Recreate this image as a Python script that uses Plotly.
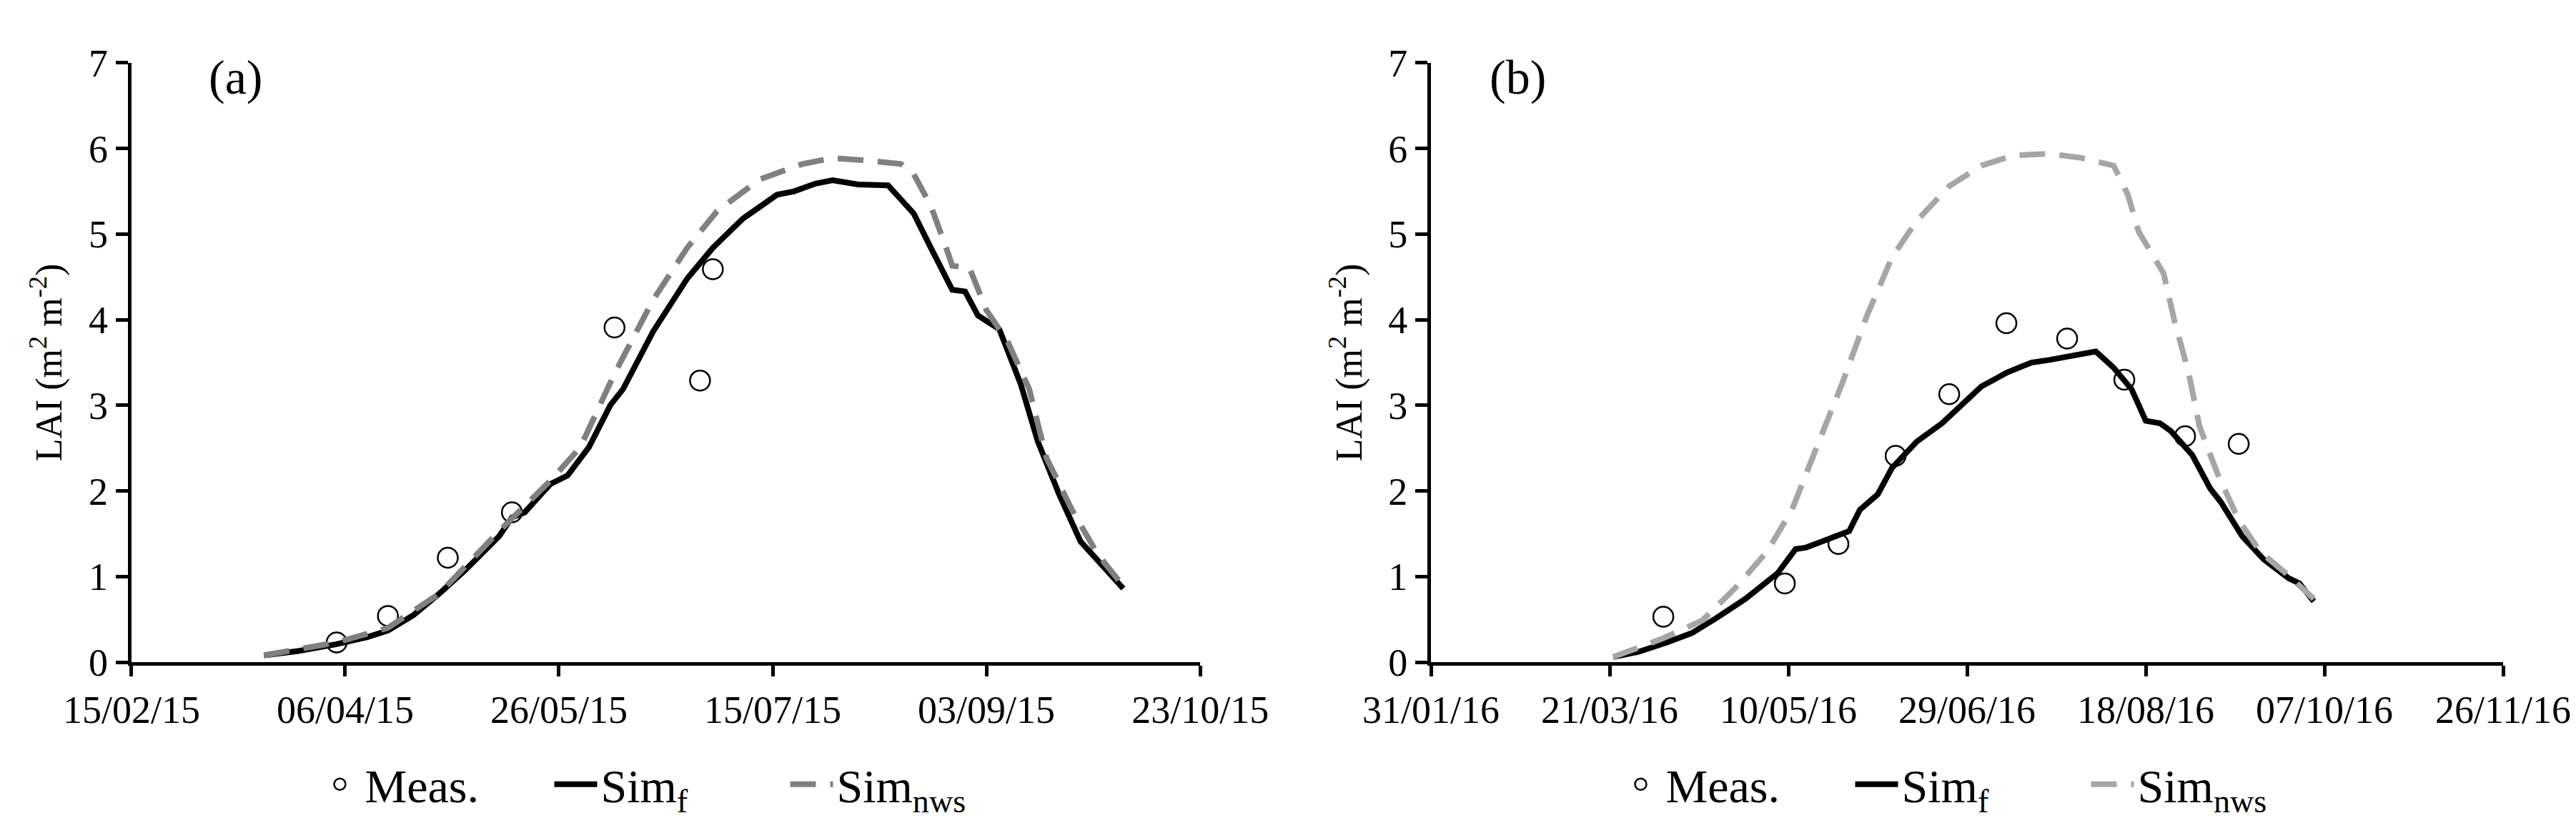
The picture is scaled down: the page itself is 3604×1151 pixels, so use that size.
import plotly.graph_objects as go

# ---- panel (a): 2015 ----
meas_a_dates = ['2015-04-04', '2015-04-16', '2015-04-30', '2015-05-15',
                '2015-06-08', '2015-06-28', '2015-07-01']
meas_a_lai = [0.23, 0.54, 1.22, 1.75, 3.91, 3.29, 4.59]

simf_a_dates = ['2015-03-18', '2015-03-26', '2015-04-04', '2015-04-11', '2015-04-16',
                '2015-04-22', '2015-04-28', '2015-05-04', '2015-05-12', '2015-05-15',
                '2015-05-18', '2015-05-24', '2015-05-28', '2015-06-02', '2015-06-07',
                '2015-06-10', '2015-06-17', '2015-06-25', '2015-07-01', '2015-07-08',
                '2015-07-16', '2015-07-20', '2015-07-25', '2015-07-29', '2015-08-04',
                '2015-08-11', '2015-08-13', '2015-08-17', '2015-08-21', '2015-08-26',
                '2015-08-29', '2015-09-01', '2015-09-06', '2015-09-11', '2015-09-15',
                '2015-09-20', '2015-09-25', '2015-10-01', '2015-10-05']
simf_a_lai = [0.08, 0.13, 0.21, 0.29, 0.37, 0.55, 0.80, 1.07, 1.47, 1.69,
              1.75, 2.08, 2.18, 2.51, 3.00, 3.19, 3.86, 4.48, 4.84, 5.18,
              5.46, 5.50, 5.59, 5.63, 5.58, 5.57, 5.46, 5.24, 4.84, 4.35,
              4.33, 4.05, 3.89, 3.25, 2.58, 1.96, 1.41, 1.07, 0.86]

simnws_a_dates = ['2015-03-18', '2015-04-04', '2015-04-16', '2015-04-28', '2015-05-12',
                  '2015-05-24', '2015-05-31', '2015-06-08', '2015-06-17', '2015-06-25',
                  '2015-07-02', '2015-07-12', '2015-07-22', '2015-07-29', '2015-08-06',
                  '2015-08-14', '2015-08-17', '2015-08-21', '2015-08-25', '2015-08-26',
                  '2015-08-30', '2015-09-03', '2015-09-08', '2015-09-13', '2015-09-17',
                  '2015-09-23', '2015-09-29', '2015-10-05']
simnws_a_lai = [0.08, 0.23, 0.40, 0.80, 1.53, 2.12, 2.51, 3.37, 4.23, 4.84,
                5.27, 5.64, 5.82, 5.89, 5.86, 5.82, 5.70, 5.33, 4.78, 4.63,
                4.61, 4.11, 3.74, 3.19, 2.39, 1.78, 1.26, 0.89]

# ---- panel (b): 2016 ----
meas_b_dates = ['2016-04-05', '2016-05-09', '2016-05-24', '2016-06-09', '2016-06-24',
                '2016-07-10', '2016-07-27', '2016-08-12', '2016-08-29', '2016-09-13']
meas_b_lai = [0.53, 0.92, 1.38, 2.41, 3.13, 3.96, 3.78, 3.30, 2.64, 2.55]

simf_b_dates = ['2016-03-22', '2016-03-29', '2016-04-06', '2016-04-13', '2016-04-20',
                '2016-04-28', '2016-05-07', '2016-05-12', '2016-05-15', '2016-05-21',
                '2016-05-27', '2016-05-30', '2016-06-02', '2016-06-04', '2016-06-08',
                '2016-06-15', '2016-06-22', '2016-06-26', '2016-07-03', '2016-07-10',
                '2016-07-17', '2016-07-22', '2016-07-29', '2016-08-04', '2016-08-09',
                '2016-08-14', '2016-08-18', '2016-08-22', '2016-08-25', '2016-08-31',
                '2016-09-05', '2016-09-08', '2016-09-14', '2016-09-20', '2016-09-27',
                '2016-09-30', '2016-10-04']
simf_b_lai = [0.06, 0.12, 0.23, 0.34, 0.52, 0.74, 1.04, 1.32, 1.34, 1.44,
              1.53, 1.78, 1.90, 1.96, 2.27, 2.58, 2.79, 2.95, 3.22, 3.38,
              3.50, 3.53, 3.59, 3.63, 3.44, 3.19, 2.82, 2.79, 2.70, 2.42,
              2.03, 1.87, 1.47, 1.20, 0.98, 0.92, 0.71]

simnws_b_dates = ['2016-03-22', '2016-04-05', '2016-04-16', '2016-04-25', '2016-05-04',
                  '2016-05-11', '2016-05-18', '2016-05-25', '2016-06-01', '2016-06-08',
                  '2016-06-15', '2016-06-24', '2016-07-03', '2016-07-12', '2016-07-22',
                  '2016-07-31', '2016-08-09', '2016-08-13', '2016-08-16', '2016-08-21',
                  '2016-08-23', '2016-08-26', '2016-08-30', '2016-09-02', '2016-09-07',
                  '2016-09-13', '2016-09-19', '2016-09-27', '2016-10-04']
simnws_b_lai = [0.06, 0.28, 0.49, 0.86, 1.29, 1.78, 2.52, 3.25, 4.05, 4.73,
                5.16, 5.56, 5.80, 5.92, 5.94, 5.89, 5.80, 5.46, 5.03, 4.67,
                4.54, 3.99, 3.38, 2.76, 2.21, 1.66, 1.29, 1.01, 0.74]

# tick labels (every 50 days)
ticks_a = ['2015-02-15', '2015-04-06', '2015-05-26', '2015-07-15', '2015-09-03', '2015-10-23']
ticklabels_a = ['15/02/15', '06/04/15', '26/05/15', '15/07/15', '03/09/15', '23/10/15']
ticks_b = ['2016-01-31', '2016-03-21', '2016-05-10', '2016-06-29', '2016-08-18',
           '2016-10-07', '2016-11-26']
ticklabels_b = ['31/01/16', '21/03/16', '10/05/16', '29/06/16', '18/08/16', '07/10/16', '26/11/16']

FONT = "Liberation Serif"
LW = 8

fig = go.Figure()

def add_panel(meas_d, meas_v, f_d, f_v, n_d, n_v, gray, xa, ya, leg):
    fig.add_trace(go.Scatter(x=meas_d, y=meas_v, mode='markers', name='Meas.',
                             marker=dict(symbol='circle-open', size=28, color='black',
                                         line=dict(width=2.5, color='black')),
                             xaxis=xa, yaxis=ya, legend=leg))
    fig.add_trace(go.Scatter(x=f_d, y=f_v, mode='lines', name='Sim<sub>f</sub>',
                             line=dict(color='black', width=LW),
                             xaxis=xa, yaxis=ya, legend=leg))
    fig.add_trace(go.Scatter(x=n_d, y=n_v, mode='lines', name='Sim<sub>nws</sub>',
                             line=dict(color=gray, width=LW, dash='36px,20px'),
                             xaxis=xa, yaxis=ya, legend=leg))

add_panel(meas_a_dates, meas_a_lai, simf_a_dates, simf_a_lai,
          simnws_a_dates, simnws_a_lai, '#808080', 'x', 'y', 'legend')
add_panel(meas_b_dates, meas_b_lai, simf_b_dates, simf_b_lai,
          simnws_b_dates, simnws_b_lai, '#A6A6A6', 'x2', 'y2', 'legend2')

xcommon = dict(showline=True, linecolor='black', linewidth=5, ticks='outside',
               ticklen=15, tickwidth=5, tickcolor='black', showgrid=False, zeroline=False,
               automargin=False,
               tickfont=dict(family=FONT, size=54, color='black'), tickangle=0)
ycommon = dict(showline=True, linecolor='black', linewidth=5, ticks='outside',
               ticklen=17, tickwidth=5, tickcolor='black', showgrid=False, zeroline=False,
               automargin=False, range=[0, 7], dtick=1, tick0=0,
               tickfont=dict(family=FONT, size=54, color='black'),
               title=dict(text='LAI (m<sup>2</sup> m<sup>-2</sup>)',
                          font=dict(family=FONT, size=52, color='black'), standoff=22))

legcommon = dict(orientation='h', xanchor='left', y=0.054, yanchor='middle',
                 font=dict(family=FONT, size=66, color='black'), itemwidth=60,
                 entrywidth=255, entrywidthmode='pixels', bgcolor='rgba(0,0,0,0)')

fig.update_layout(
    width=3604, height=1151,
    margin=dict(l=0, r=0, t=0, b=0, autoexpand=False),
    paper_bgcolor='white', plot_bgcolor='white',
    font=dict(family=FONT, color='black'),
    xaxis=dict(xcommon, domain=[0.0488, 0.4637], range=['2015-02-15', '2015-10-23'],
               tickvals=ticks_a, ticktext=ticklabels_a),
    yaxis=dict(ycommon, domain=[0.2024, 0.9305], anchor='x'),
    xaxis2=dict(xcommon, domain=[0.5533, 0.9695], range=['2016-01-31', '2016-11-26'],
                tickvals=ticks_b, ticktext=ticklabels_b, anchor='y2'),
    yaxis2=dict(ycommon, domain=[0.2024, 0.9305], anchor='x2'),
    legend=dict(legcommon, x=0.120),
    legend2=dict(legcommon, x=0.625),
    annotations=[
        dict(text='(a)', x=0.0782, y=0.948, xref='paper', yref='paper',
             showarrow=False, font=dict(family=FONT, size=68, color='black')),
        dict(text='(b)', x=0.587, y=0.948, xref='paper', yref='paper',
             showarrow=False, font=dict(family=FONT, size=68, color='black')),
    ],
)

fig.write_html("out.html")
